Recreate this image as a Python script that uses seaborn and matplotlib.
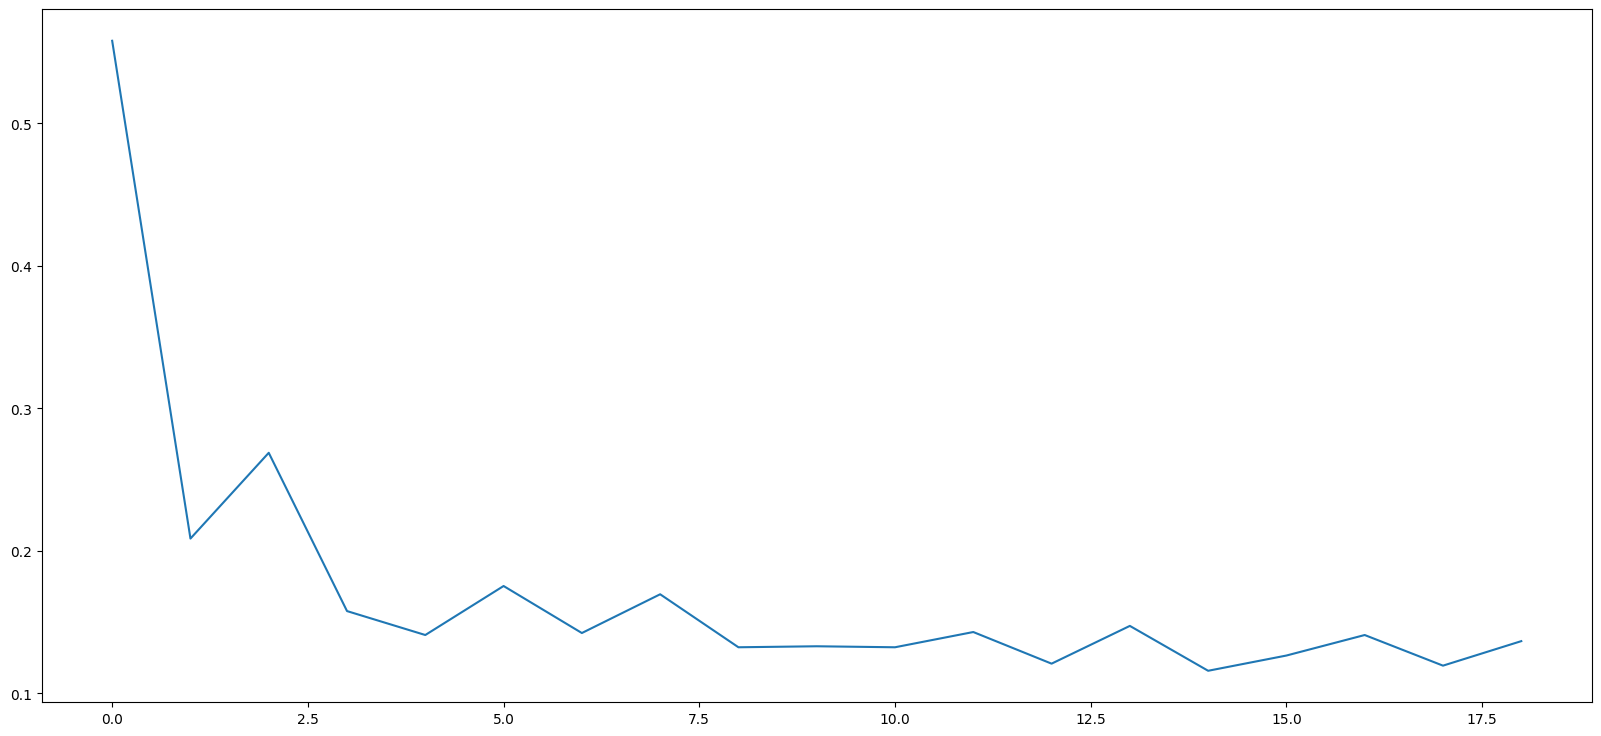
# loss curve plot
import numpy as np
import pandas as pd
import matplotlib
matplotlib.use("Agg")
import matplotlib.pyplot as plt
import seaborn as sns

# values
epochs = list(range(19))
loss = [0.558, 0.2086, 0.2688, 0.1577, 0.1409, 0.1753, 0.1423, 0.1695, 0.1323,
        0.1330, 0.1323, 0.1430, 0.1208, 0.1473, 0.1158, 0.1265, 0.1409, 0.1194, 0.1366]

df = pd.DataFrame({"epoch": epochs, "loss": loss})

fig, ax = plt.subplots(figsize=(20, 9), dpi=100)
sns.lineplot(data=df, x="epoch", y="loss", ax=ax)
ax.set_xlabel("")
ax.set_ylabel("")

plt.savefig("out.png", bbox_inches="tight")
plt.close()
